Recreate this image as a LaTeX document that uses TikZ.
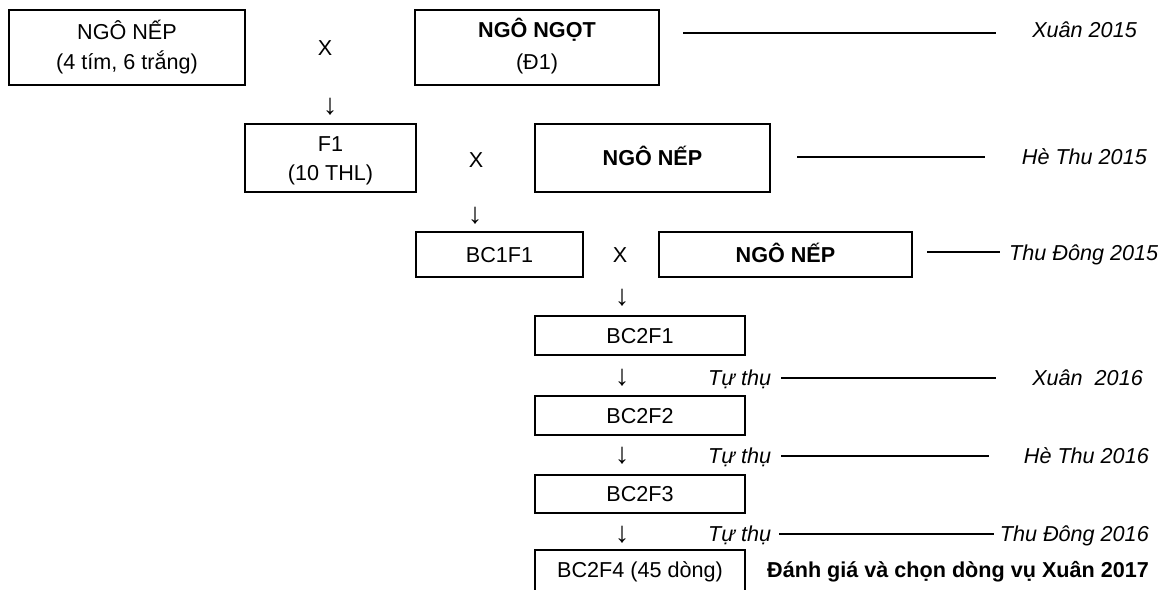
\documentclass[tikz,border=0pt]{standalone}
\usepackage{fontspec}
\setmainfont{Liberation Sans}
\newcommand\fsz{\fontsize{21.6}{30}\selectfont}
\begin{document}
\begin{tikzpicture}[x=1pt,y=-1pt,
  box/.style={draw, line width=1.8pt, inner sep=0pt},
  txt/.style={inner sep=0pt, anchor=base, font=\fsz},
  txtb/.style={txt, font=\fsz\bfseries},
  txti/.style={txt, font=\fsz\itshape},
  arr/.style={inner sep=0pt, anchor=center, font=\fontsize{29}{30}\selectfont},
  xmark/.style={inner sep=0pt, anchor=center, font=\fsz},
  conn/.style={line width=1.4pt}]
\clip (0,0) rectangle (1167,589);
\fill[white] (0,0) rectangle (1167,589);
% row 1
\node[box, minimum width=236pt, minimum height=75pt] (n1) at (127,47.5) {};
\node[txt] (n1a) at (127,39.7) {NGÔ NẾP};
\node[txt] (n1c) at (127,69.7) {(4 tím, 6 trắng)};
\node[xmark] (x1) at (325,48) {X};
\node[box, minimum width=244pt, minimum height=75pt] (n2) at (537,47.5) {};
\node[txtb] (n2a) at (537,37.7) {NGÔ NGỌT};
\node[txt] (n2b) at (537,69.7) {(Đ1)};
\coordinate (l1a) at (683,33); \coordinate (l1b) at (996,33);
\draw[conn] (l1a) -- (l1b);
\node[txti, anchor=base east] (s1) at (1137,37.7) {Xuân 2015};
% row 2
\node[arr] (a1) at (330,107) {↓};
\node[box, minimum width=171pt, minimum height=68pt] (f1) at (330.5,158) {};
\node[txt] (f1a) at (330.5,151.7) {F1};
\node[txt] (f1b) at (330.5,180.7) {(10 THL)};
\node[xmark] (x2) at (476,160) {X};
\node[box, minimum width=235pt, minimum height=68pt] (n3) at (652.5,158) {};
\node[txtb] (n3a) at (652.5,165.7) {NGÔ NẾP};
\coordinate (l2a) at (797,157); \coordinate (l2b) at (985,157);
\draw[conn] (l2a) -- (l2b);
\node[txti, anchor=base east] (s2) at (1147,164.7) {Hè Thu 2015};
% row 3
\node[arr] (a2) at (475,216) {↓};
\node[box, minimum width=167pt, minimum height=45pt] (bc1) at (499.5,254.5) {};
\node[txt] (bc1a) at (499.5,262.2) {BC1F1};
\node[xmark] (x3) at (620,255) {X};
\node[box, minimum width=253pt, minimum height=45pt] (n4) at (785.5,254.5) {};
\node[txtb] (n4a) at (785.5,262.2) {NGÔ NẾP};
\coordinate (l3a) at (927,252); \coordinate (l3b) at (1000,252);
\draw[conn] (l3a) -- (l3b);
\node[txti, anchor=base west] (s3) at (1009,260.7) {Thu Đông 2015};
% chain
\node[arr] (a3) at (622,298) {↓};
\node[box, minimum width=210pt, minimum height=39pt] (b21) at (640,335.5) {};
\node[txt] (b21a) at (640,343.2) {BC2F1};
\node[arr] (a4) at (622,378) {↓};
\node[txti, anchor=base west] (t1) at (708,385.7) {Tự thụ};
\coordinate (l4a) at (781,378); \coordinate (l4b) at (996,378);
\draw[conn] (l4a) -- (l4b);
\node[txti, anchor=base east] (s4) at (1143,385.7) {Xuân~~2016};
\node[box, minimum width=210pt, minimum height=39pt] (b22) at (640,415.5) {};
\node[txt] (b22a) at (640,423.2) {BC2F2};
\node[arr] (a5) at (622,456) {↓};
\node[txti, anchor=base west] (t2) at (708,463.7) {Tự thụ};
\coordinate (l5a) at (781,456); \coordinate (l5b) at (989,456);
\draw[conn] (l5a) -- (l5b);
\node[txti, anchor=base east] (s5) at (1149,463.7) {Hè Thu 2016};
\node[box, minimum width=210pt, minimum height=38pt] (b23) at (640,494) {};
\node[txt] (b23a) at (640,501.7) {BC2F3};
\node[arr] (a6) at (622,535) {↓};
\node[txti, anchor=base west] (t3) at (708,541.7) {Tự thụ};
\coordinate (l6a) at (779,534); \coordinate (l6b) at (994,534);
\draw[conn] (l6a) -- (l6b);
\node[txti, anchor=base east] (s6) at (1149,541.7) {Thu Đông 2016};
\node[box, minimum width=210pt, minimum height=60pt] (b24) at (640,580) {};
\node[txt] (b24a) at (640,577.7) {BC2F4 (45 dòng)};
\node[txtb, anchor=base west] (s7) at (767,577.7) {Đánh giá và chọn dòng vụ Xuân 2017};
\end{tikzpicture}
\end{document}
